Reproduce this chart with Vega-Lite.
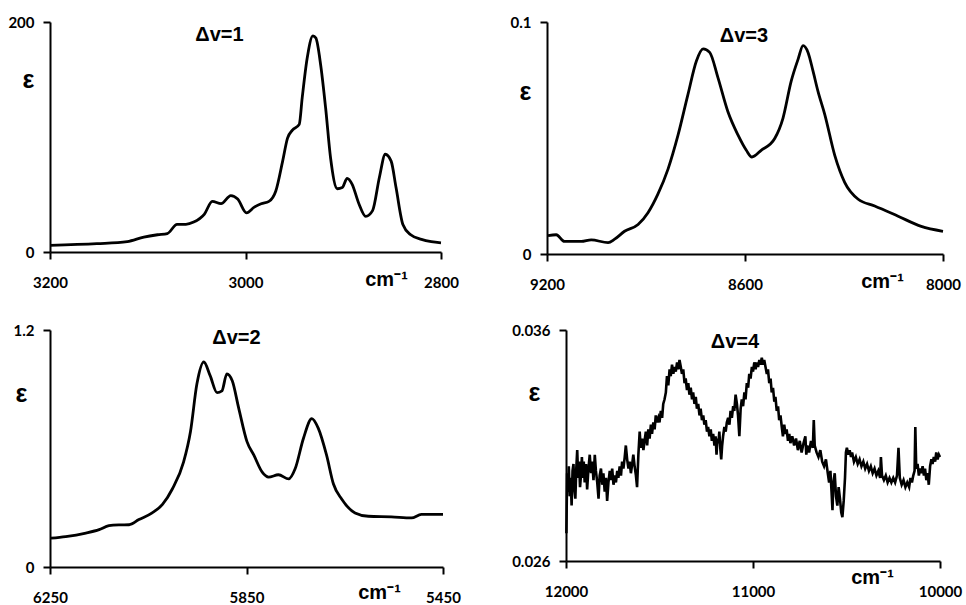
{
  "$schema": "https://vega.github.io/schema/vega-lite/v6.json",
  "background": "white",
  "padding": {"left": 7, "top": 15, "right": 5, "bottom": 5},
  "spacing": 31,
  "datasets": {
    "p1": [
      {"v": 3200, "e": 5.7}, {"v": 3152, "e": 7.2}, {"v": 3121, "e": 9}, {"v": 3104, "e": 13}, {"v": 3090, "e": 15},
      {"v": 3080, "e": 16}, {"v": 3070, "e": 24}, {"v": 3061, "e": 24}, {"v": 3053, "e": 26}, {"v": 3042, "e": 33},
      {"v": 3034, "e": 44}, {"v": 3025, "e": 42}, {"v": 3015, "e": 49}, {"v": 3008, "e": 46}, {"v": 2999, "e": 34},
      {"v": 2991, "e": 39}, {"v": 2984, "e": 42}, {"v": 2976, "e": 44}, {"v": 2969, "e": 53}, {"v": 2962, "e": 79},
      {"v": 2957, "e": 99}, {"v": 2952, "e": 106}, {"v": 2945, "e": 111}, {"v": 2942, "e": 134}, {"v": 2937, "e": 168},
      {"v": 2931, "e": 188}, {"v": 2928, "e": 186}, {"v": 2923, "e": 162}, {"v": 2918, "e": 125}, {"v": 2913, "e": 82},
      {"v": 2906, "e": 55}, {"v": 2901, "e": 56}, {"v": 2896, "e": 64}, {"v": 2891, "e": 59}, {"v": 2884, "e": 42},
      {"v": 2877, "e": 31}, {"v": 2870, "e": 36}, {"v": 2863, "e": 65}, {"v": 2857, "e": 85}, {"v": 2851, "e": 79},
      {"v": 2846, "e": 56}, {"v": 2839, "e": 24}, {"v": 2831, "e": 15}, {"v": 2820, "e": 11}, {"v": 2810, "e": 9},
      {"v": 2800, "e": 8}
    ],
    "p2": [
      {"v": 9197, "e": 0.0079}, {"v": 9172, "e": 0.0083}, {"v": 9147, "e": 0.0054}, {"v": 9096, "e": 0.0054}, {"v": 9066, "e": 0.0061},
      {"v": 9015, "e": 0.0049}, {"v": 8995, "e": 0.0064}, {"v": 8965, "e": 0.0098}, {"v": 8924, "e": 0.0127}, {"v": 8894, "e": 0.0178},
      {"v": 8864, "e": 0.0258}, {"v": 8833, "e": 0.0367}, {"v": 8803, "e": 0.0512}, {"v": 8773, "e": 0.0687}, {"v": 8747, "e": 0.0833},
      {"v": 8727, "e": 0.0884}, {"v": 8707, "e": 0.0869}, {"v": 8682, "e": 0.076}, {"v": 8652, "e": 0.0614}, {"v": 8621, "e": 0.0512},
      {"v": 8596, "e": 0.0447}, {"v": 8579, "e": 0.0418}, {"v": 8551, "e": 0.0447}, {"v": 8510, "e": 0.0498}, {"v": 8485, "e": 0.0585},
      {"v": 8460, "e": 0.0745}, {"v": 8439, "e": 0.084}, {"v": 8424, "e": 0.0898}, {"v": 8409, "e": 0.0869}, {"v": 8394, "e": 0.0789},
      {"v": 8379, "e": 0.0702}, {"v": 8358, "e": 0.06}, {"v": 8328, "e": 0.0425}, {"v": 8298, "e": 0.0309}, {"v": 8257, "e": 0.0236},
      {"v": 8207, "e": 0.0207}, {"v": 8136, "e": 0.0163}, {"v": 8066, "e": 0.0119}, {"v": 8000, "e": 0.0098}
    ],
    "p3": [
      {"v": 6248, "e": 0.146}, {"v": 6218, "e": 0.154}, {"v": 6177, "e": 0.172}, {"v": 6150, "e": 0.189}, {"v": 6130, "e": 0.209},
      {"v": 6109, "e": 0.213}, {"v": 6089, "e": 0.214}, {"v": 6069, "e": 0.24}, {"v": 6042, "e": 0.274}, {"v": 6021, "e": 0.317},
      {"v": 6001, "e": 0.395}, {"v": 5978, "e": 0.532}, {"v": 5964, "e": 0.686}, {"v": 5951, "e": 0.926}, {"v": 5937, "e": 1.038},
      {"v": 5924, "e": 0.969}, {"v": 5910, "e": 0.883}, {"v": 5900, "e": 0.892}, {"v": 5890, "e": 0.978}, {"v": 5879, "e": 0.943},
      {"v": 5866, "e": 0.806}, {"v": 5849, "e": 0.635}, {"v": 5835, "e": 0.566}, {"v": 5818, "e": 0.48}, {"v": 5805, "e": 0.455},
      {"v": 5785, "e": 0.467}, {"v": 5764, "e": 0.446}, {"v": 5751, "e": 0.497}, {"v": 5734, "e": 0.652}, {"v": 5717, "e": 0.751},
      {"v": 5704, "e": 0.703}, {"v": 5687, "e": 0.566}, {"v": 5673, "e": 0.42}, {"v": 5656, "e": 0.343}, {"v": 5629, "e": 0.274},
      {"v": 5602, "e": 0.257}, {"v": 5555, "e": 0.254}, {"v": 5514, "e": 0.249}, {"v": 5494, "e": 0.266}, {"v": 5450, "e": 0.266}
    ],
    "p4": [
      {"v": 11998, "e": 0.0272}, {"v": 11994, "e": 0.0298}, {"v": 11990, "e": 0.029}, {"v": 11985, "e": 0.0301}, {"v": 11980, "e": 0.0288},
      {"v": 11975, "e": 0.0296}, {"v": 11970, "e": 0.0284}, {"v": 11965, "e": 0.0299}, {"v": 11960, "e": 0.0302}, {"v": 11955, "e": 0.0291},
      {"v": 11950, "e": 0.0287}, {"v": 11945, "e": 0.03}, {"v": 11940, "e": 0.0308}, {"v": 11935, "e": 0.0296}, {"v": 11930, "e": 0.0303},
      {"v": 11925, "e": 0.0292}, {"v": 11920, "e": 0.0297}, {"v": 11915, "e": 0.0305}, {"v": 11910, "e": 0.0296}, {"v": 11905, "e": 0.0303},
      {"v": 11900, "e": 0.0294}, {"v": 11893, "e": 0.0302}, {"v": 11887, "e": 0.0291}, {"v": 11880, "e": 0.03}, {"v": 11873, "e": 0.0306},
      {"v": 11866, "e": 0.0298}, {"v": 11860, "e": 0.0303}, {"v": 11853, "e": 0.0295}, {"v": 11846, "e": 0.0306}, {"v": 11840, "e": 0.0299},
      {"v": 11833, "e": 0.0294}, {"v": 11826, "e": 0.0287}, {"v": 11820, "e": 0.0297}, {"v": 11813, "e": 0.03}, {"v": 11806, "e": 0.0293},
      {"v": 11800, "e": 0.0298}, {"v": 11793, "e": 0.029}, {"v": 11786, "e": 0.0296}, {"v": 11780, "e": 0.0286}, {"v": 11773, "e": 0.0294},
      {"v": 11766, "e": 0.0299}, {"v": 11760, "e": 0.0295}, {"v": 11753, "e": 0.03}, {"v": 11746, "e": 0.0293}, {"v": 11740, "e": 0.0297},
      {"v": 11733, "e": 0.0294}, {"v": 11726, "e": 0.0299}, {"v": 11720, "e": 0.0296}, {"v": 11713, "e": 0.0301}, {"v": 11706, "e": 0.0297},
      {"v": 11700, "e": 0.0303}, {"v": 11693, "e": 0.03}, {"v": 11686, "e": 0.0305}, {"v": 11680, "e": 0.031}, {"v": 11673, "e": 0.0304},
      {"v": 11666, "e": 0.03}, {"v": 11660, "e": 0.0303}, {"v": 11653, "e": 0.0298}, {"v": 11646, "e": 0.0302}, {"v": 11640, "e": 0.0306},
      {"v": 11633, "e": 0.0301}, {"v": 11626, "e": 0.0297}, {"v": 11620, "e": 0.0292}, {"v": 11613, "e": 0.0306}, {"v": 11606, "e": 0.0316},
      {"v": 11600, "e": 0.0309}, {"v": 11593, "e": 0.0313}, {"v": 11586, "e": 0.0308}, {"v": 11580, "e": 0.0312}, {"v": 11573, "e": 0.0316},
      {"v": 11566, "e": 0.031}, {"v": 11560, "e": 0.0317}, {"v": 11553, "e": 0.0313}, {"v": 11546, "e": 0.0319}, {"v": 11540, "e": 0.0315},
      {"v": 11533, "e": 0.032}, {"v": 11526, "e": 0.0317}, {"v": 11520, "e": 0.0323}, {"v": 11513, "e": 0.032}, {"v": 11506, "e": 0.0322},
      {"v": 11500, "e": 0.032}, {"v": 11493, "e": 0.0325}, {"v": 11486, "e": 0.0322}, {"v": 11480, "e": 0.0328}, {"v": 11473, "e": 0.033},
      {"v": 11466, "e": 0.0333}, {"v": 11460, "e": 0.034}, {"v": 11453, "e": 0.0336}, {"v": 11446, "e": 0.0343}, {"v": 11440, "e": 0.034},
      {"v": 11433, "e": 0.0345}, {"v": 11426, "e": 0.0341}, {"v": 11420, "e": 0.0344}, {"v": 11413, "e": 0.0342}, {"v": 11406, "e": 0.0346},
      {"v": 11400, "e": 0.0343}, {"v": 11393, "e": 0.0347}, {"v": 11386, "e": 0.0344}, {"v": 11380, "e": 0.0341}, {"v": 11373, "e": 0.0343},
      {"v": 11366, "e": 0.0337}, {"v": 11360, "e": 0.0339}, {"v": 11353, "e": 0.0334}, {"v": 11346, "e": 0.0337}, {"v": 11340, "e": 0.0332},
      {"v": 11333, "e": 0.0335}, {"v": 11326, "e": 0.033}, {"v": 11320, "e": 0.0333}, {"v": 11313, "e": 0.0328}, {"v": 11306, "e": 0.0331},
      {"v": 11300, "e": 0.0326}, {"v": 11293, "e": 0.0328}, {"v": 11286, "e": 0.0323}, {"v": 11280, "e": 0.0326}, {"v": 11273, "e": 0.0321},
      {"v": 11266, "e": 0.0323}, {"v": 11260, "e": 0.0319}, {"v": 11253, "e": 0.0321}, {"v": 11246, "e": 0.0316}, {"v": 11240, "e": 0.0318},
      {"v": 11233, "e": 0.0314}, {"v": 11226, "e": 0.0317}, {"v": 11220, "e": 0.0312}, {"v": 11213, "e": 0.0315}, {"v": 11206, "e": 0.031},
      {"v": 11200, "e": 0.0314}, {"v": 11195, "e": 0.0306}, {"v": 11190, "e": 0.0313}, {"v": 11185, "e": 0.0311}, {"v": 11180, "e": 0.0316},
      {"v": 11175, "e": 0.0309}, {"v": 11170, "e": 0.0304}, {"v": 11165, "e": 0.031}, {"v": 11160, "e": 0.0314}, {"v": 11153, "e": 0.0318},
      {"v": 11146, "e": 0.0316}, {"v": 11140, "e": 0.032}, {"v": 11133, "e": 0.0322}, {"v": 11126, "e": 0.0319}, {"v": 11120, "e": 0.0325},
      {"v": 11113, "e": 0.0322}, {"v": 11106, "e": 0.0327}, {"v": 11100, "e": 0.0325}, {"v": 11093, "e": 0.0332}, {"v": 11086, "e": 0.0328},
      {"v": 11080, "e": 0.0323}, {"v": 11073, "e": 0.0314}, {"v": 11066, "e": 0.0326}, {"v": 11060, "e": 0.033}, {"v": 11053, "e": 0.0327},
      {"v": 11046, "e": 0.0333}, {"v": 11040, "e": 0.033}, {"v": 11033, "e": 0.0337}, {"v": 11026, "e": 0.0335}, {"v": 11020, "e": 0.0341},
      {"v": 11013, "e": 0.0339}, {"v": 11006, "e": 0.0344}, {"v": 11000, "e": 0.0342}, {"v": 10993, "e": 0.0346}, {"v": 10986, "e": 0.0343},
      {"v": 10980, "e": 0.0346}, {"v": 10973, "e": 0.0344}, {"v": 10966, "e": 0.0347}, {"v": 10960, "e": 0.0345}, {"v": 10953, "e": 0.0348},
      {"v": 10946, "e": 0.0345}, {"v": 10940, "e": 0.0347}, {"v": 10933, "e": 0.0344}, {"v": 10926, "e": 0.0341}, {"v": 10920, "e": 0.0343},
      {"v": 10913, "e": 0.0337}, {"v": 10906, "e": 0.0339}, {"v": 10900, "e": 0.0333}, {"v": 10893, "e": 0.0335}, {"v": 10886, "e": 0.0329},
      {"v": 10880, "e": 0.0331}, {"v": 10873, "e": 0.0325}, {"v": 10866, "e": 0.0327}, {"v": 10860, "e": 0.0321}, {"v": 10853, "e": 0.0323},
      {"v": 10846, "e": 0.0318}, {"v": 10840, "e": 0.0314}, {"v": 10833, "e": 0.0319}, {"v": 10826, "e": 0.0315}, {"v": 10820, "e": 0.0317},
      {"v": 10813, "e": 0.0312}, {"v": 10806, "e": 0.0315}, {"v": 10800, "e": 0.0311}, {"v": 10790, "e": 0.0314}, {"v": 10780, "e": 0.031},
      {"v": 10770, "e": 0.0313}, {"v": 10760, "e": 0.0308}, {"v": 10750, "e": 0.0312}, {"v": 10740, "e": 0.0307}, {"v": 10730, "e": 0.0311},
      {"v": 10720, "e": 0.0314}, {"v": 10715, "e": 0.0306}, {"v": 10710, "e": 0.031}, {"v": 10700, "e": 0.0307}, {"v": 10690, "e": 0.0312},
      {"v": 10680, "e": 0.0309}, {"v": 10675, "e": 0.0321}, {"v": 10670, "e": 0.031}, {"v": 10660, "e": 0.0307}, {"v": 10650, "e": 0.0305},
      {"v": 10640, "e": 0.0308}, {"v": 10630, "e": 0.0303}, {"v": 10620, "e": 0.0301}, {"v": 10610, "e": 0.0304}, {"v": 10600, "e": 0.0298},
      {"v": 10593, "e": 0.0294}, {"v": 10586, "e": 0.0299}, {"v": 10580, "e": 0.029}, {"v": 10575, "e": 0.0282}, {"v": 10570, "e": 0.0294},
      {"v": 10563, "e": 0.0298}, {"v": 10556, "e": 0.0288}, {"v": 10549, "e": 0.0284}, {"v": 10542, "e": 0.0292}, {"v": 10535, "e": 0.0287},
      {"v": 10528, "e": 0.0281}, {"v": 10522, "e": 0.0279}, {"v": 10515, "e": 0.0286}, {"v": 10508, "e": 0.0296}, {"v": 10503, "e": 0.0307},
      {"v": 10498, "e": 0.0309}, {"v": 10490, "e": 0.0306}, {"v": 10483, "e": 0.0308}, {"v": 10476, "e": 0.0305}, {"v": 10470, "e": 0.0307},
      {"v": 10460, "e": 0.0303}, {"v": 10450, "e": 0.0305}, {"v": 10440, "e": 0.0302}, {"v": 10430, "e": 0.0304}, {"v": 10420, "e": 0.0301},
      {"v": 10410, "e": 0.0303}, {"v": 10400, "e": 0.03}, {"v": 10390, "e": 0.0302}, {"v": 10380, "e": 0.0299}, {"v": 10370, "e": 0.0301},
      {"v": 10360, "e": 0.0298}, {"v": 10350, "e": 0.03}, {"v": 10340, "e": 0.0297}, {"v": 10330, "e": 0.0299}, {"v": 10320, "e": 0.0296},
      {"v": 10316, "e": 0.0305}, {"v": 10310, "e": 0.0297}, {"v": 10300, "e": 0.0295}, {"v": 10290, "e": 0.0297}, {"v": 10280, "e": 0.0294},
      {"v": 10270, "e": 0.0296}, {"v": 10260, "e": 0.0294}, {"v": 10250, "e": 0.0296}, {"v": 10240, "e": 0.0294}, {"v": 10230, "e": 0.0297},
      {"v": 10222, "e": 0.0309}, {"v": 10215, "e": 0.0296}, {"v": 10205, "e": 0.0293}, {"v": 10195, "e": 0.0295}, {"v": 10185, "e": 0.0292},
      {"v": 10175, "e": 0.0294}, {"v": 10165, "e": 0.0292}, {"v": 10158, "e": 0.0296}, {"v": 10150, "e": 0.0294}, {"v": 10143, "e": 0.0297},
      {"v": 10136, "e": 0.0299}, {"v": 10132, "e": 0.0318}, {"v": 10127, "e": 0.03}, {"v": 10120, "e": 0.0302}, {"v": 10113, "e": 0.0297},
      {"v": 10106, "e": 0.03}, {"v": 10100, "e": 0.0298}, {"v": 10093, "e": 0.0301}, {"v": 10086, "e": 0.0297}, {"v": 10080, "e": 0.03},
      {"v": 10073, "e": 0.0295}, {"v": 10066, "e": 0.0298}, {"v": 10060, "e": 0.0293}, {"v": 10053, "e": 0.0301}, {"v": 10046, "e": 0.0304},
      {"v": 10040, "e": 0.0302}, {"v": 10033, "e": 0.0305}, {"v": 10026, "e": 0.0303}, {"v": 10020, "e": 0.0307}, {"v": 10013, "e": 0.0304},
      {"v": 10006, "e": 0.0306}, {"v": 10000, "e": 0.0305}
    ]
  },
  "vconcat": [
    {
      "bounds": "flush",
      "spacing": 106,
      "hconcat": [
        {
          "width": 391, "height": 230,
          "data": {"name": "p1"},
          "title": {"text": "Δv=1", "anchor": "middle", "dx": -26, "dy": 40, "offset": 0, "baseline": "middle"},
          "mark": {"type": "line", "interpolate": "monotone"},
          "encoding": {
            "x": {"field": "v", "type": "quantitative", "scale": {"domain": [2800, 3200], "reverse": true, "nice": false, "zero": false},
              "axis": {"values": [3200, 3000, 2800], "format": "d", "title": "cm⁻¹", "titleX": 336, "titleY": 27}},
            "y": {"field": "e", "type": "quantitative", "scale": {"domain": [0, 200], "nice": false},
              "axis": {"values": [0, 200], "format": "d", "title": "ε", "titleX": -22, "titleY": 57}}
          }
        },
        {
          "width": 396, "height": 232,
          "data": {"name": "p2"},
          "title": {"text": "Δv=3", "anchor": "middle", "dx": -1, "dy": 41, "offset": 0, "baseline": "middle"},
          "mark": {"type": "line", "interpolate": "monotone"},
          "encoding": {
            "x": {"field": "v", "type": "quantitative", "scale": {"domain": [8000, 9200], "reverse": true, "nice": false, "zero": false},
              "axis": {"values": [9200, 8600, 8000], "format": "d", "title": "cm⁻¹", "titleX": 335, "titleY": 27}},
            "y": {"field": "e", "type": "quantitative", "scale": {"domain": [0, 0.1], "nice": false},
              "axis": {"values": [0, 0.1], "labelExpr": "datum.value == 0 ? '0' : format(datum.value, '.1f')", "title": "ε", "titleX": -22, "titleY": 69}}
          }
        }
      ]
    },
    {
      "bounds": "flush",
      "spacing": 123,
      "hconcat": [
        {
          "width": 393, "height": 237,
          "data": {"name": "p3"},
          "title": {"text": "Δv=2", "anchor": "middle", "dx": -10, "dy": 35, "offset": 0, "baseline": "middle"},
          "mark": {"type": "line", "interpolate": "monotone"},
          "encoding": {
            "x": {"field": "v", "type": "quantitative", "scale": {"domain": [5450, 6250], "reverse": true, "nice": false, "zero": false},
              "axis": {"values": [6250, 5850, 5450], "format": "d", "title": "cm⁻¹", "titleX": 329, "titleY": 25}},
            "y": {"field": "e", "type": "quantitative", "scale": {"domain": [0, 1.2], "nice": false},
              "axis": {"values": [0, 1.2], "labelExpr": "datum.value == 0 ? '0' : format(datum.value, '.1f')", "title": "ε", "titleX": -29, "titleY": 63}}
          }
        },
        {
          "width": 374, "height": 231,
          "data": {"name": "p4"},
          "title": {"text": "Δv=4", "anchor": "middle", "dx": -18, "dy": 39, "offset": 0, "baseline": "middle"},
          "mark": {"type": "line", "interpolate": "linear", "strokeWidth": 2.6},
          "encoding": {
            "x": {"field": "v", "type": "quantitative", "scale": {"domain": [10000, 12000], "reverse": true, "nice": false, "zero": false},
              "axis": {"values": [12000, 11000, 10000], "format": "d", "title": "cm⁻¹", "titleX": 306, "titleY": 16}},
            "y": {"field": "e", "type": "quantitative", "scale": {"domain": [0.026, 0.036], "nice": false, "zero": false},
              "axis": {"values": [0.026, 0.036], "labelExpr": "format(datum.value, '.3f')", "title": "ε", "titleX": -32, "titleY": 62}}
          }
        }
      ]
    }
  ],
  "config": {
    "view": {"stroke": null},
    "axis": {
      "grid": false, "domainColor": "black", "domainWidth": 2, "tickColor": "black", "tickWidth": 2, "tickSize": 7,
      "labelFont": "Lato", "labelFontWeight": "bold", "labelFontSize": 15, "labelColor": "black", "labelFlush": false,
      "titleFont": "Liberation Sans", "titleFontWeight": "bold", "titleColor": "black",
      "titleAngle": 0, "titleAlign": "center", "titleBaseline": "middle"
    },
    "axisX": {"labelPadding": 16, "titleFontSize": 20},
    "axisY": {"labelPadding": 9, "titleFontSize": 25},
    "line": {"color": "black", "strokeWidth": 2.8},
    "title": {"font": "Liberation Sans", "fontSize": 20, "fontWeight": "bold", "color": "black"}
  }
}
